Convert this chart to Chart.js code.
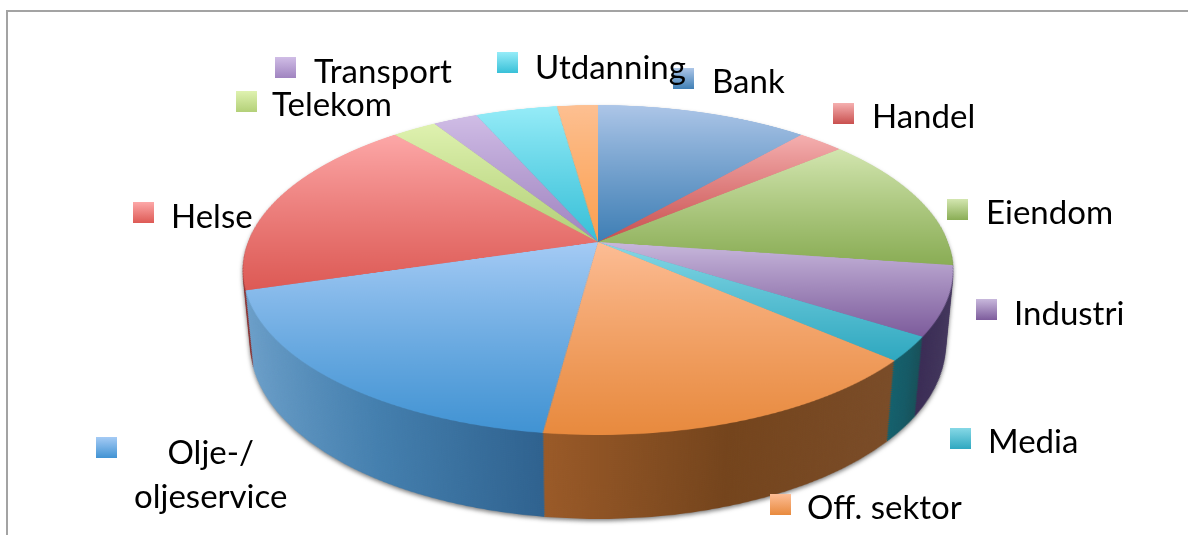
<!DOCTYPE html>
<html>
<head>
<meta charset="utf-8">
<title>Kundefordeling</title>
<script src="https://cdn.jsdelivr.net/npm/chart.js@4"></script>
<style>
    html, body { margin: 0; padding: 0; background: #fff; }
    #page { position: relative; width: 1188px; height: 535px; overflow: hidden; background: #fff; }
    #frameTop { position: absolute; left: 6px; top: 10px; right: 0; height: 2px; background: #a3a3a3; }
    #frameLeft { position: absolute; left: 6px; top: 10px; bottom: 0; width: 2px; background: #a3a3a3; }
    #wall { position: absolute; left: 0; top: 0; width: 1188px; height: 535px; filter: drop-shadow(0 2px 2px rgba(60,60,60,.65)); }
    canvas.layer { position: absolute; }
    .marker { position: absolute; width: 21px; height: 21px; }
    .label { position: absolute; font-family: Lato, sans-serif; font-size: 33px; line-height: 44px; color: #000; white-space: pre; }
</style>
</head>
<body>
<div id="page">
    <div id="frameTop"></div>
    <div id="frameLeft"></div>
    <div id="wall"></div>
</div>
<script>
// share of each sector (percent)
const categories = ["Bank", "Handel", "Eiendom", "Industri", "Media", "Off. sektor",
    "Olje-/\noljeservice", "Helse", "Telekom", "Transport", "Utdanning", ""];
const shares = [11.4, 2.5, 13.4, 6.8, 2.4, 15.7, 18.3, 18.3, 2.4, 2.4, 4.4, 2.2];

// top face colours: light at the top of a slice, dark at its bottom
const topLight = ["#adc6e8", "#f5b0b0", "#d3e6b0", "#c8b8dc", "#86d8e6", "#fdbd95",
    "#a5cbf5", "#fda8a8", "#dff2b0", "#d0bde6", "#96ecf8", "#fdc092"];
const topDark = ["#3f7fb5", "#c9504f", "#8aad55", "#7d5c9c", "#2fa8c0", "#e88a3e",
    "#4193d3", "#dd5a55", "#b3d078", "#a084c0", "#38c0d8", "#fca050"];

// side wall colours, left / middle / right of a slice
const wallLeft = ["#2b5a85", "#8a3030", "#5f7a35", "#3a2c55", "#14606c", "#9a5a28",
    "#6c9fc9", "#8a3030", "#5f7a35", "#3a2c55", "#14606c", "#9a5a28"];
const wallMid = ["#2b5a85", "#8a3030", "#5f7a35", "#3f3259", "#155a66", "#74441c",
    "#447fae", "#8a3030", "#5f7a35", "#3a2c55", "#14606c", "#9a5a28"];
const wallRight = ["#2b5a85", "#8a3030", "#5f7a35", "#45385f", "#175058", "#7a4c28",
    "#2f628f", "#8a3030", "#5f7a35", "#3a2c55", "#14606c", "#9a5a28"];

// label layout: marker left, marker top, text left, text top
const markerX = [673, 833, 947, 976, 950, 770, 96, 133, 236, 275, 497];
const markerY = [68, 103, 199, 299, 428, 494, 437, 202, 91, 57, 52];
const textX = [712, 872, 986, 1014, 988, 807, 134, 171, 272, 314, 535];
const textY = [58, 93, 189, 290, 418, 484, 429, 193, 81, 48, 44];

const SIZE = 700;
const CENTER_X = 598;
const CENTER_Y = 242;
const TILT = "perspective(1834px) rotateX(62.76deg)";
const WALL_DEPTH = 85;
const WALL_STEP = 2;

const total = shares.reduce((a, b) => a + b, 0);

// bounding box of a slice on the unit circle, clockwise from 12 o'clock
function sliceBox(i, withCentre) {
    const before = shares.slice(0, i).reduce((a, b) => a + b, 0);
    const xs = withCentre ? [0] : [];
    const ys = withCentre ? [0] : [];
    for (let s = 0; s <= 40; s++) {
        const a = (before + shares[i] * s / 40) / total * Math.PI * 2;
        xs.push(Math.sin(a));
        ys.push(-Math.cos(a));
    }
    return { x0: Math.min(...xs), x1: Math.max(...xs), y0: Math.min(...ys), y1: Math.max(...ys) };
}

function topFill(ctx) {
    const area = ctx.chart.chartArea;
    if (!area) return topDark[ctx.dataIndex];
    const r = (area.right - area.left) / 2;
    const cy = (area.top + area.bottom) / 2;
    const box = sliceBox(ctx.dataIndex, true);
    const g = ctx.chart.ctx.createLinearGradient(0, cy + box.y0 * r, 0, cy + box.y1 * r);
    g.addColorStop(0, topLight[ctx.dataIndex]);
    g.addColorStop(1, topDark[ctx.dataIndex]);
    return g;
}

function wallFill(ctx) {
    const area = ctx.chart.chartArea;
    if (!area) return wallMid[ctx.dataIndex];
    const r = (area.right - area.left) / 2;
    const cx = (area.left + area.right) / 2;
    const box = sliceBox(ctx.dataIndex, false);
    const g = ctx.chart.ctx.createLinearGradient(cx + box.x0 * r, 0, cx + box.x1 * r, 0);
    g.addColorStop(0, wallLeft[ctx.dataIndex]);
    g.addColorStop(0.5, wallMid[ctx.dataIndex]);
    g.addColorStop(1, wallRight[ctx.dataIndex]);
    return g;
}

function makeLayer(parent, depth) {
    const c = document.createElement("canvas");
    c.className = "layer";
    c.width = SIZE;
    c.height = SIZE;
    c.style.left = (CENTER_X - SIZE / 2) + "px";
    c.style.top = (CENTER_Y - SIZE / 2) + "px";
    c.style.width = SIZE + "px";
    c.style.height = SIZE + "px";
    c.style.transform = TILT + " translateZ(" + (-depth) + "px)";
    parent.appendChild(c);
    return c;
}

function makePie(canvas, fill, ratio) {
    const chart = new Chart(canvas, {
        type: "pie",
        data: {
            labels: categories,
            datasets: [{ data: shares, backgroundColor: fill, borderWidth: 0 }]
        },
        options: {
            responsive: false,
            animation: false,
            devicePixelRatio: ratio,
            layout: { padding: 0 },
            plugins: { legend: { display: false }, tooltip: { enabled: false } }
        }
    });
    // Chart.js sets the css size itself, put the layer position back
    canvas.style.position = "absolute";
    return chart;
}

const page = document.getElementById("page");
const wallBox = document.getElementById("wall");

// side wall: one chart at the bottom, then copies of it stacked up to the top face
const wallCanvas = makeLayer(wallBox, WALL_DEPTH);
const wallChart = makePie(wallCanvas, wallFill, 1);
wallChart.render();
for (let d = WALL_DEPTH - WALL_STEP; d > 0; d -= WALL_STEP) {
    const copy = makeLayer(wallBox, d);
    copy.getContext("2d").drawImage(wallCanvas, 0, 0);
}

// top face
makePie(makeLayer(page, 0), topFill, 2);

// labels
categories.forEach((name, i) => {
    if (!name) return;
    const m = document.createElement("div");
    m.className = "marker";
    m.style.left = markerX[i] + "px";
    m.style.top = markerY[i] + "px";
    m.style.background = "linear-gradient(" + topLight[i] + "," + topDark[i] + ")";
    page.appendChild(m);

    const t = document.createElement("div");
    t.className = "label";
    t.style.left = textX[i] + "px";
    t.style.top = textY[i] + "px";
    t.style.textAlign = "center";
    t.textContent = name;
    page.appendChild(t);
});
</script>
</body>
</html>
